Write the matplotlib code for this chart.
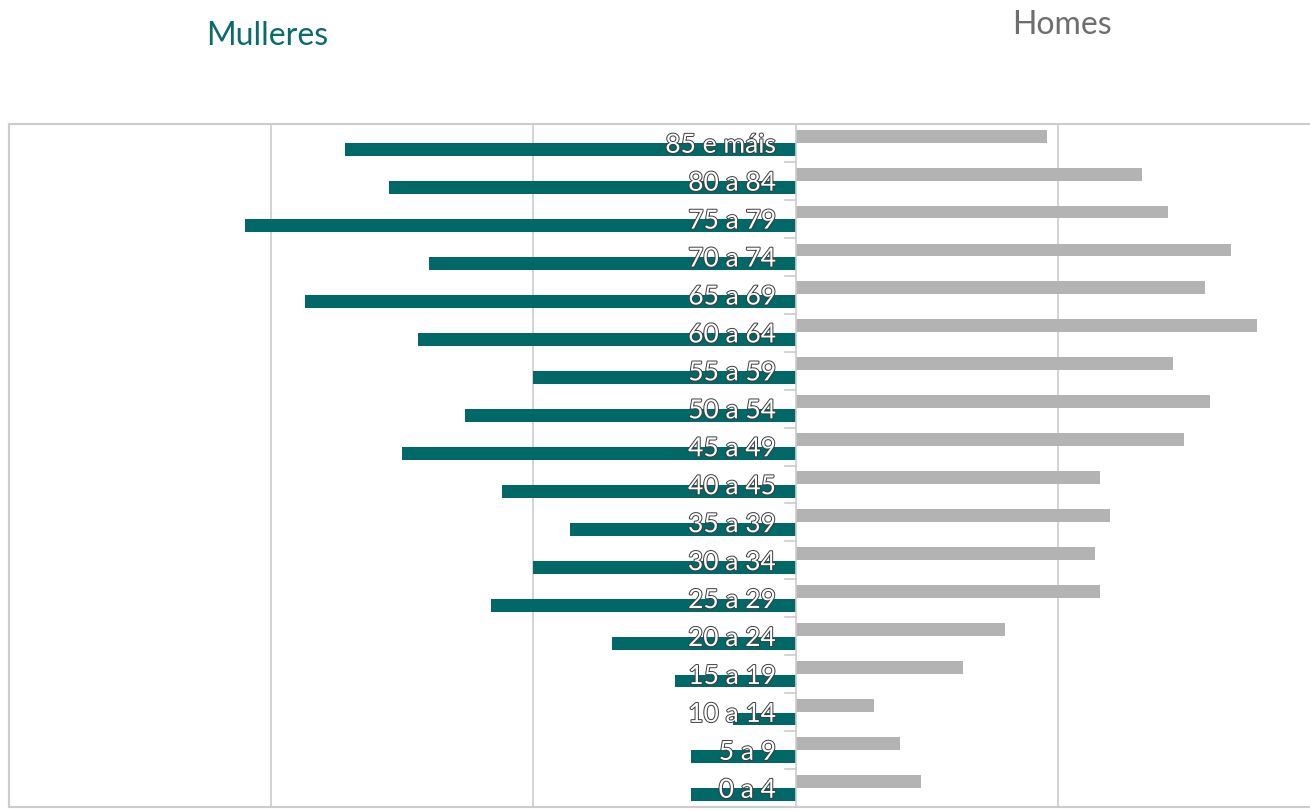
import matplotlib
matplotlib.use('Agg')
import matplotlib.pyplot as plt
import matplotlib.patheffects as pe
import numpy as np

# Grupos de idade (de abaixo cara arriba)
grupos = ['0 a 4', '5 a 9', '10 a 14', '15 a 19', '20 a 24', '25 a 29', '30 a 34',
          '35 a 39', '40 a 45', '45 a 49', '50 a 54', '55 a 59', '60 a 64', '65 a 69',
          '70 a 74', '75 a 79', '80 a 84', '85 e máis']
mulleres = [0.40, 0.40, 0.24, 0.46, 0.70, 1.16, 1.00, 0.86, 1.12, 1.50, 1.26, 1.00,
            1.44, 1.87, 1.40, 2.10, 1.55, 1.72]
homes = [0.48, 0.40, 0.30, 0.64, 0.80, 1.16, 1.14, 1.20, 1.16, 1.48, 1.58, 1.44,
         1.76, 1.56, 1.66, 1.42, 1.32, 0.96]

cor_m = '#006867'
cor_h = '#b3b3b3'
cor_grella = '#cccccc'

plt.rcParams['font.family'] = ['Lato', 'DejaVu Sans']

fig = plt.figure(figsize=(13.1, 8.12), dpi=100)
ax = fig.add_axes([9 / 1310, 4 / 812, 1311 / 1310, 683 / 812])

y = np.arange(len(grupos))
alto = 0.34
ax.barh(y - 0.18, [-v for v in mulleres], height=alto, color=cor_m, zorder=3)
ax.barh(y + 0.18, homes, height=alto, color=cor_h, zorder=3)

ax.set_xlim(-3, 2)
ax.set_ylim(-0.5, len(grupos) - 0.5)

# grella vertical
for xg in [-2, -1, 1]:
    ax.axvline(xg, color=cor_grella, lw=1.2, zorder=1)
ax.axvline(0, color=cor_grella, lw=1.2, zorder=4)

for s in ax.spines.values():
    s.set_color(cor_grella)
    s.set_linewidth(1.5)

ax.set_xticks([])
ax.set_yticks([])

# pequenas marcas no eixe central
for b in np.arange(-0.5, len(grupos), 1.0):
    ax.plot([-0.04, 0], [b, b], color=cor_grella, lw=1.2, zorder=4, clip_on=False)

# etiquetas dos grupos
for yi, g in zip(y, grupos):
    ax.text(-0.075, yi - 0.06, g, ha='right', va='center', fontsize=19,
            color='white', zorder=5,
            path_effects=[pe.withStroke(linewidth=1.4, foreground='#3c3c3c')])

fig.text(267 / 1310, 1 - 36 / 812, 'Mulleres', ha='center', va='center',
         fontsize=23, color='#0b6b6b')
fig.text(1062 / 1310, 1 - 25 / 812, 'Homes', ha='center', va='center',
         fontsize=23, color='#6e6e6e')

fig.savefig('out.png', dpi=100, facecolor='white')
